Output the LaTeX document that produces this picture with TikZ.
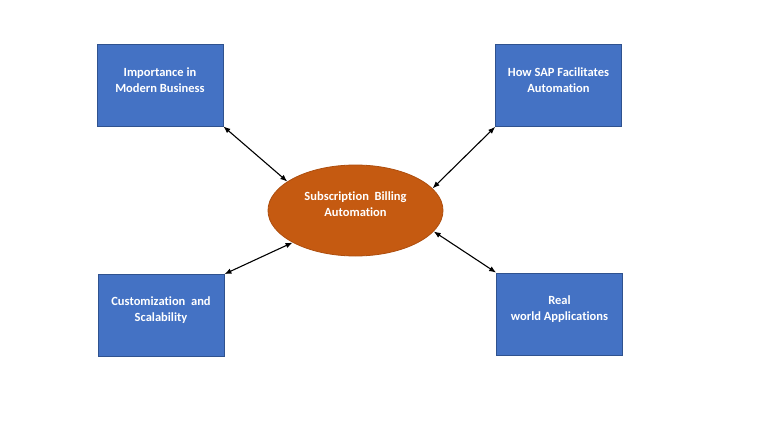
\documentclass[tikz,border=0pt]{standalone}
\usepackage{fontspec}
\setmainfont[Ligatures=NoCommon]{Carlito}
\usetikzlibrary{shapes.geometric,arrows.meta}
\definecolor{boxfill}{HTML}{4472C4}
\definecolor{boxline}{HTML}{2F528F}
\definecolor{ellfill}{HTML}{C55A11}
\definecolor{ellline}{HTML}{AE4E0E}
\begin{document}
\begin{tikzpicture}[x=1pt,y=1pt,
  topic/.style={rectangle,draw=boxline,line width=0.8pt,fill=boxfill,minimum width=126pt,minimum height=82pt},
  hub/.style={ellipse,draw=ellline,line width=0.8pt,fill=ellfill,minimum width=175pt,minimum height=91pt},
  caption/.style={text=white,font=\fontsize{12.5}{16}\selectfont\bfseries,align=center,inner sep=0pt},
  link/.style={line width=1.1pt,black,{Latex[length=7pt,width=5.5pt]}-{Latex[length=7pt,width=5.5pt]}}]
\useasboundingbox[fill=white] (0,0) rectangle (768,432);
\node[hub] (e) at (355.5,221.5) {};
\node[caption] (et) at ([yshift=6]e.center) {Subscription\ \ Billing\\Automation};
\node[topic] (tl) at (160,347) {};
\node[caption] (tlt) at ([yshift=5]tl.center) {Importance in\\Modern Business};
\node[topic] (tr) at (558.5,346.5) {};
\node[caption] (trt) at ([yshift=5]tr.center) {How SAP Facilitates\\Automation};
\node[topic] (bl) at (161,116.5) {};
\node[caption] (blt) at ([yshift=5]bl.center) {Customization\ \ and\\Scalability};
\node[topic] (br) at (559.5,118) {};
\node[caption] (brt) at ([yshift=5]br.center) {Real\\world Applications};
\draw[link] (tl.south east) -- (e.157);
\draw[link] (tr.south west) -- (e.16);
\draw[link] (bl.north east) -- (e.207);
\draw[link] (br.north west) -- (e.-15);
\end{tikzpicture}
\end{document}
